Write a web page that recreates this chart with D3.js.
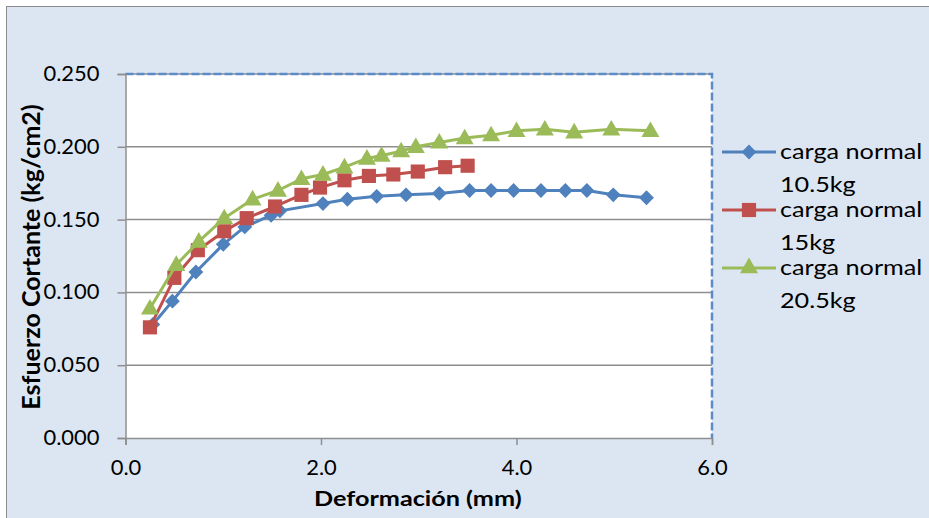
<!DOCTYPE html>
<html>
<head>
<meta charset="utf-8">
<script src="https://cdn.jsdelivr.net/npm/d3@7"></script>
<style>
  html, body { margin: 0; padding: 0; background: #ffffff; }
  svg { display: block; font-family: Lato, "Open Sans", sans-serif; }
</style>
</head>
<body>
<svg id="chart" width="929" height="518"></svg>
<script>
// Shear test: deformation (mm) vs shear stress (kg/cm2) for three normal loads
const seriesNames = ["carga normal 10.5kg", "carga normal 15kg", "carga normal 20.5kg"];
const legendLines = [["carga normal", "10.5kg"], ["carga normal", "15kg"], ["carga normal", "20.5kg"]];

const defo105 = [0.28, 0.48, 0.72, 1.00, 1.22, 1.49, 1.58, 2.02, 2.27, 2.57, 2.87, 3.21, 3.52, 3.74, 3.97, 4.25, 4.50, 4.72, 4.99, 5.33];
const stress105 = [0.078, 0.094, 0.114, 0.133, 0.145, 0.153, 0.156, 0.161, 0.164, 0.166, 0.167, 0.168, 0.170, 0.170, 0.170, 0.170, 0.170, 0.170, 0.167, 0.165];

const defo15 = [0.25, 0.50, 0.74, 1.01, 1.24, 1.53, 1.80, 1.99, 2.24, 2.49, 2.74, 2.99, 3.27, 3.50];
const stress15 = [0.076, 0.110, 0.129, 0.142, 0.151, 0.159, 0.167, 0.172, 0.177, 0.180, 0.181, 0.183, 0.186, 0.187];

const defo205 = [0.25, 0.52, 0.75, 1.01, 1.30, 1.56, 1.80, 2.02, 2.24, 2.47, 2.62, 2.82, 2.97, 3.21, 3.47, 3.74, 4.00, 4.29, 4.59, 4.97, 5.37];
const stress205 = [0.089, 0.119, 0.135, 0.151, 0.164, 0.170, 0.178, 0.181, 0.186, 0.192, 0.194, 0.197, 0.200, 0.203, 0.206, 0.208, 0.211, 0.212, 0.210, 0.212, 0.211];

const xTicks = [0, 2, 4, 6];
const yTicks = [0, 0.05, 0.1, 0.15, 0.2, 0.25];

const xLabel = "Deformación (mm)";
const yLabel = "Esfuerzo Cortante (kg/cm2)";

const colors = ["#4F81BD", "#C0504D", "#9BBB59"];
const markerTypes = [d3.symbolDiamond2, d3.symbolSquare, d3.symbolTriangle];
const markerSizes = [140, 200, 140];

// Horizontal widening applied to text so the glyphs read like a wide sans
const textStretch = 1.23;
const tickStretch = 1.07;

const series = [
  { name: seriesNames[0], pts: defo105.map((x, i) => [x, stress105[i]]) },
  { name: seriesNames[1], pts: defo15.map((x, i) => [x, stress15[i]]) },
  { name: seriesNames[2], pts: defo205.map((x, i) => [x, stress205[i]]) }
];

const svg = d3.select("#chart");
const W = 929, H = 518;
const plot = { left: 125.5, top: 74, right: 712, bottom: 438 };

// Chart area background and frame
svg.append("rect").attr("x", 0).attr("y", 0).attr("width", W).attr("height", H).attr("fill", "#ffffff");
svg.append("rect").attr("x", 6.5).attr("y", 6.5).attr("width", W + 10).attr("height", H + 10)
  .attr("fill", "#DCE6F2").attr("stroke", "#8C8C8C").attr("stroke-width", 1);

const x = d3.scaleLinear().domain([0, 6]).range([plot.left, plot.right]);
const y = d3.scaleLinear().domain([0, 0.25]).range([plot.bottom, plot.top]);

// Plot area
svg.append("rect").attr("x", plot.left).attr("y", plot.top)
  .attr("width", plot.right - plot.left).attr("height", plot.bottom - plot.top)
  .attr("fill", "#ffffff");

// Horizontal gridlines
svg.append("g").selectAll("line").data(yTicks.filter(v => v > 0)).join("line")
  .attr("x1", plot.left).attr("x2", plot.right)
  .attr("y1", d => y(d)).attr("y2", d => y(d))
  .attr("stroke", "#8E8E8E").attr("stroke-width", 1.5);

// Plot area border (top and right dashed blue)
svg.append("path")
  .attr("d", `M${plot.left},${plot.top}H${plot.right}V${plot.bottom}`)
  .attr("fill", "none").attr("stroke", "#5B8BC9").attr("stroke-width", 2.5)
  .attr("stroke-dasharray", "8,3");

function stretchTickText(sel) {
  sel.each(function () {
    const t = d3.select(this);
    const tx = +t.attr("x") || 0;
    t.attr("x", 0).attr("transform", `translate(${tx},0) scale(${tickStretch},1)`);
  });
}

// Y axis
const yAxis = d3.axisLeft(y).tickValues(yTicks).tickFormat(d3.format(".3f")).tickSize(8).tickPadding(18);
const gy = svg.append("g").attr("transform", `translate(${plot.left},0)`).call(yAxis);
gy.select(".domain").attr("stroke", "#8E8E8E").attr("stroke-width", 1.5);
gy.selectAll(".tick line").attr("stroke", "#8E8E8E").attr("stroke-width", 1.5);
gy.selectAll(".tick text").attr("font-size", 20.5).attr("fill", "#000").attr("font-family", "Lato, sans-serif")
  .call(stretchTickText);

// X axis
const xAxis = d3.axisBottom(x).tickValues(xTicks).tickFormat(d3.format(".1f")).tickSize(7).tickPadding(15);
const gx = svg.append("g").attr("transform", `translate(0,${plot.bottom})`).call(xAxis);
gx.select(".domain").attr("stroke", "#8E8E8E").attr("stroke-width", 1.5);
gx.selectAll(".tick line").attr("stroke", "#8E8E8E").attr("stroke-width", 1.5);
gx.selectAll(".tick text").attr("font-size", 20.5).attr("fill", "#000").attr("font-family", "Lato, sans-serif")
  .call(stretchTickText);

// Axis titles
svg.append("g").attr("transform", `translate(${(plot.left + plot.right) / 2 - 1},506) scale(${textStretch},1)`)
  .append("text").attr("text-anchor", "middle").attr("font-size", 20.5).attr("font-weight", "bold")
  .attr("fill", "#000").text(xLabel);
svg.append("text").attr("transform", `translate(40,257) rotate(-90)`)
  .attr("text-anchor", "middle").attr("font-size", 25).attr("font-weight", "bold")
  .attr("fill", "#000").text(yLabel);

// Series lines and markers
const line = d3.line().x(d => x(d[0])).y(d => y(d[1]));
series.forEach((s, i) => {
  const g = svg.append("g");
  g.append("path").datum(s.pts).attr("d", line)
    .attr("fill", "none").attr("stroke", colors[i]).attr("stroke-width", 3)
    .attr("stroke-linejoin", "round");
  const sym = d3.symbol().type(markerTypes[i]).size(markerSizes[i]);
  g.selectAll("path.m").data(s.pts).join("path").attr("class", "m")
    .attr("transform", d => `translate(${x(d[0])},${y(d[1]) + (i === 2 ? 1 : 0)})`)
    .attr("d", sym).attr("fill", colors[i]);
});

// Legend
const legend = svg.append("g");
legendLines.forEach((lines, i) => {
  const ly = 152 + i * 58;
  legend.append("line").attr("x1", 722).attr("x2", 776).attr("y1", ly).attr("y2", ly)
    .attr("stroke", colors[i]).attr("stroke-width", 3);
  legend.append("path").attr("transform", `translate(749,${ly})`)
    .attr("d", d3.symbol().type(markerTypes[i]).size(markerSizes[i])()).attr("fill", colors[i]);
  lines.forEach((t, k) => {
    legend.append("g").attr("transform", `translate(780,${ly + 7 + k * 33}) scale(${textStretch},1)`)
      .append("text").attr("font-size", 20.5).attr("fill", "#000").text(t);
  });
});
</script>
</body>
</html>
